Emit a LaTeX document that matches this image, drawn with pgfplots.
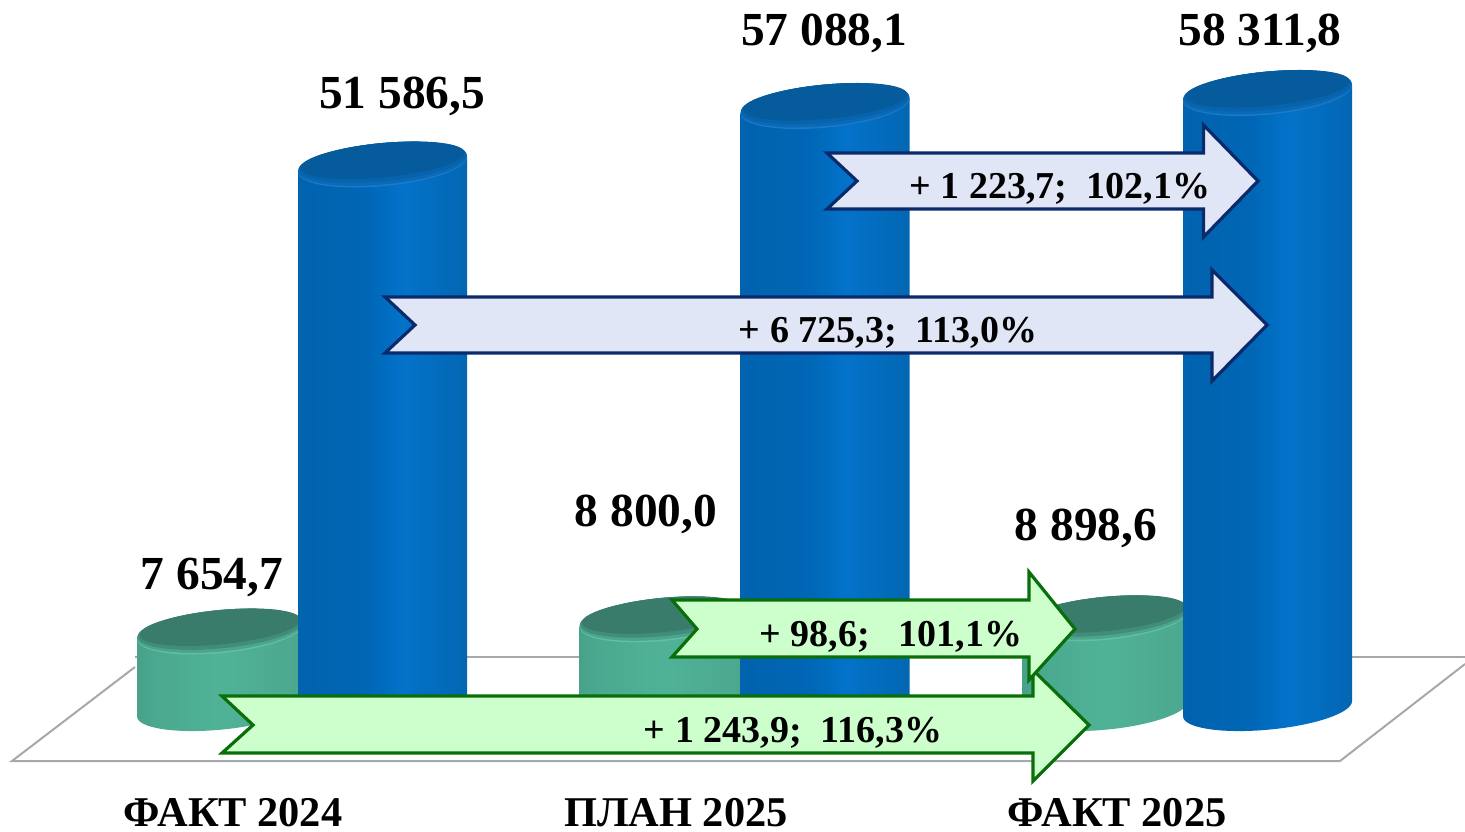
\documentclass[border=0pt]{standalone}
\usepackage{fontspec}
\usepackage{pgfplots}
\pgfplotsset{compat=1.18}
\setmainfont{Liberation Serif}
\definecolor{arb}{HTML}{0B2A6B}
\definecolor{arbf}{HTML}{E0E6F5}
\definecolor{arg}{HTML}{0A6E0A}
\definecolor{argf}{HTML}{CCFFCC}
\definecolor{floorc}{HTML}{A8A8A8}
\definecolor{brim}{HTML}{1A7ACB}
\definecolor{bmid}{HTML}{0A6AB6}
\definecolor{bmid2}{HTML}{0763AC}
\definecolor{btop}{HTML}{055B9B}
\definecolor{grim}{HTML}{62BFA4}
\definecolor{gmid}{HTML}{4BA58D}
\definecolor{gmid2}{HTML}{418D7A}
\definecolor{gtop}{HTML}{3A7C6C}
\pgfdeclarehorizontalshading{bluecyl}{100bp}{
 rgb(0bp)=(0.03,0.27,0.46);
 rgb(6bp)=(0.01,0.34,0.59);
 rgb(14bp)=(0.01,0.38,0.67);
 rgb(45bp)=(0.00,0.40,0.71);
 rgb(56bp)=(0.01,0.45,0.79);
 rgb(75bp)=(0.01,0.40,0.70);
 rgb(90bp)=(0.02,0.31,0.54);
 rgb(100bp)=(0.02,0.21,0.37)}
\pgfdeclarehorizontalshading{greencyl}{100bp}{
 rgb(0bp)=(0.24,0.46,0.40);
 rgb(12bp)=(0.26,0.56,0.48);
 rgb(30bp)=(0.29,0.66,0.56);
 rgb(50bp)=(0.31,0.70,0.59);
 rgb(72bp)=(0.30,0.66,0.56);
 rgb(90bp)=(0.26,0.54,0.45);
 rgb(100bp)=(0.24,0.46,0.40)}
\pgfdeclareplotmark{bluebot}{\pgfpathellipse{\pgfpointorigin}{\pgfqpoint{42.25pt}{3.75pt}}{\pgfqpoint{0pt}{10.5pt}}\pgfshadepath{bluecyl}{0}\pgfusepath{discard}}
\pgfdeclareplotmark{greenbot}{\pgfpathellipse{\pgfpointorigin}{\pgfqpoint{41.5pt}{3.75pt}}{\pgfqpoint{0pt}{10.5pt}}\pgfshadepath{greencyl}{0}\pgfusepath{discard}}
\pgfdeclareplotmark{bluetop}{%
 \pgfsetfillcolor{brim}\pgfpathellipse{\pgfpointorigin}{\pgfqpoint{42.25pt}{3.75pt}}{\pgfqpoint{0pt}{10.8pt}}\pgfusepath{fill}%
 \pgfsetfillcolor{bmid}\pgfpathellipse{\pgfqpoint{0pt}{0.4pt}}{\pgfqpoint{42.25pt}{3.75pt}}{\pgfqpoint{0pt}{10.4pt}}\pgfusepath{fill}%
 \pgfsetfillcolor{bmid2}\pgfpathellipse{\pgfqpoint{0pt}{1.2pt}}{\pgfqpoint{42pt}{3.75pt}}{\pgfqpoint{0pt}{9.6pt}}\pgfusepath{fill}%
 \pgfsetfillcolor{btop}\pgfpathellipse{\pgfqpoint{0pt}{2.2pt}}{\pgfqpoint{41pt}{3.75pt}}{\pgfqpoint{0pt}{8.6pt}}\pgfusepath{fill}}
\pgfdeclareplotmark{greentop}{%
 \pgfsetfillcolor{grim}\pgfpathellipse{\pgfpointorigin}{\pgfqpoint{41.5pt}{3.75pt}}{\pgfqpoint{0pt}{10.8pt}}\pgfusepath{fill}%
 \pgfsetfillcolor{gmid}\pgfpathellipse{\pgfqpoint{0pt}{0.4pt}}{\pgfqpoint{41.5pt}{3.75pt}}{\pgfqpoint{0pt}{10.4pt}}\pgfusepath{fill}%
 \pgfsetfillcolor{gmid2}\pgfpathellipse{\pgfqpoint{0pt}{1.2pt}}{\pgfqpoint{41.2pt}{3.75pt}}{\pgfqpoint{0pt}{9.6pt}}\pgfusepath{fill}%
 \pgfsetfillcolor{gtop}\pgfpathellipse{\pgfqpoint{0pt}{2.2pt}}{\pgfqpoint{40.3pt}{3.75pt}}{\pgfqpoint{0pt}{8.6pt}}\pgfusepath{fill}}
\newcommand{\vfont}{\fontsize{23.7}{28}\selectfont\bfseries}
\newcommand{\afont}{\fontsize{19}{22}\selectfont\bfseries}
\pgfplotsset{
 base/.style={at={(0,0)},anchor=south west,scale only axis,width=732.5pt,height=415.5pt,clip=false,xmin=0,xmax=1465},
 px/.style={base,hide axis,ymin=0,ymax=831,y dir=reverse},
 vals/.style={base,ymin=-11100.6,ymax=67074.3,axis line style={draw=none},tick style={draw=none},ytick=\empty,
  /pgf/number format/.cd,fixed,fixed zerofill,precision=1,use comma,1000 sep={\ },assume math mode=true},
 vlab/.style 2 args={nodes near coords,every node near coord/.style={anchor=center,xshift=#1,yshift=#2,font=\vfont,text=black}},
}
\begin{document}
\begin{tikzpicture}
\path[use as bounding box] (0,0) rectangle (732.5pt,415.5pt);
% floor
\begin{axis}[px]
\addplot[draw=none,fill=white] coordinates {(135,657) (1465,657) (1340,761) (12,761)} -- cycle;
\addplot[floorc,line width=1pt] coordinates {(135,657) (1465,657)};
\addplot[floorc,line width=1pt] coordinates {(1465,664) (1340,761) (12,761) (135,667)};
\end{axis}
% green cylinders: y is the value
\begin{axis}[vals,
  xtick={233,676,1117},xticklabels={ФАКТ 2024,ПЛАН 2025,ФАКТ 2025},
  xticklabel style={anchor=center,inner sep=0pt,yshift=9pt,font=\fontsize{21.2}{24}\selectfont\bfseries}]
\addplot[only marks,mark=greenbot] coordinates {(220,400)};
\addplot[draw=none,shade,shading=greencyl] coordinates {(137,6949.7) (220,7654.7) (303,8359.7) (303,1105) (137,-305)} -- cycle;
\addplot[only marks,mark=greentop,vlab={-4pt}{27pt}] coordinates {(220,7654.7)};
\addplot[only marks,mark=greenbot] coordinates {(662.5,400)};
\addplot[draw=none,shade,shading=greencyl] coordinates {(579.5,8095) (662.5,8800) (745.5,9505) (745.5,1105) (579.5,-305)} -- cycle;
\addplot[only marks,mark=greentop,vlab={-8.25pt}{52.5pt}] coordinates {(662.5,8800)};
\addplot[only marks,mark=greenbot] coordinates {(1105,400)};
\addplot[draw=none,shade,shading=greencyl] coordinates {(1022,8193.6) (1105,8898.6) (1188,9603.6) (1188,1105) (1022,-305)} -- cycle;
\addplot[only marks,mark=greentop,vlab={-9.5pt}{45.25pt}] coordinates {(1105,8898.6)};
\end{axis}
% blue cylinders: y is the value
\begin{axis}[vals,xtick=\empty]
\addplot[only marks,mark=bluebot] coordinates {(382.5,400)};
\addplot[draw=none,shade,shading=bluecyl] coordinates {(298,50881.5) (382.5,51586.5) (467,52291.5) (467,1105) (298,-305)} -- cycle;
\addplot[only marks,mark=bluetop,vlab={9.75pt}{34.25pt}] coordinates {(382.5,51586.5)};
\addplot[only marks,mark=bluebot] coordinates {(825,400)};
\addplot[draw=none,shade,shading=bluecyl] coordinates {(740.5,56383.1) (825,57088.1) (909.5,57793.1) (909.5,1105) (740.5,-305)} -- cycle;
\addplot[only marks,mark=bluetop,vlab={-0.5pt}{36.5pt}] coordinates {(825,57088.1)};
\addplot[only marks,mark=bluebot] coordinates {(1267.5,400)};
\addplot[draw=none,shade,shading=bluecyl] coordinates {(1183,57606.8) (1267.5,58311.8) (1352,59016.8) (1352,1105) (1183,-305)} -- cycle;
\addplot[only marks,mark=bluetop,vlab={-3.75pt}{30pt}] coordinates {(1267.5,58311.8)};
\end{axis}
% arrows
\begin{axis}[px]
\addplot[arb,fill=arbf,line width=1.6pt,miter limit=6] coordinates {(827,153) (1203.5,153) (1203.5,125) (1258,181) (1203.5,237) (1203.5,209) (827,209) (857,181)} -- cycle;
\addplot[arb,fill=arbf,line width=1.6pt,miter limit=6] coordinates {(385,297) (1212,297) (1212,270) (1267,325) (1212,381) (1212,353) (385,353) (415,325)} -- cycle;
\addplot[arg,fill=argf,line width=1.6pt,miter limit=6] coordinates {(222,696) (1033,696) (1033,670) (1089,725) (1033,781) (1033,753) (222,753) (253,725)} -- cycle;
\addplot[arg,fill=argf,line width=1.6pt,miter limit=6] coordinates {(672,600) (1029,600) (1029,572) (1075,629) (1029,680) (1029,657) (672,657) (697,629)} -- cycle;
\node[font=\afont,anchor=center] at (axis cs:1060,188.5) {+ 1 223,7;\ \ 102,1\%};
\node[font=\afont,anchor=center] at (axis cs:888,332.5) {+ 6 725,3;\ \ 113,0\%};
\node[font=\afont,anchor=center] at (axis cs:891,636.5) {+ 98,6;\ \ \ 101,1\%};
\node[font=\afont,anchor=center] at (axis cs:793,732.5) {+ 1 243,9;\ \ 116,3\%};
\end{axis}
\end{tikzpicture}
\end{document}
